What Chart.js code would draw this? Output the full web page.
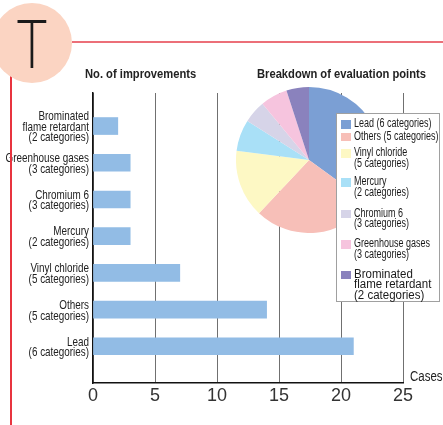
<!DOCTYPE html>
<html>
<head>
<meta charset="utf-8">
<script src="https://cdn.jsdelivr.net/npm/chart.js@4.4.1/dist/chart.umd.min.js"></script>
<style>
  html, body { margin: 0; padding: 0; background: #fff; }
  #page { position: relative; width: 443px; height: 425px; overflow: hidden; font-family: 'Liberation Sans', Arial, sans-serif; color: #222; }
  #badge { position: absolute; left: -8px; top: 3px; width: 80px; height: 80px; border-radius: 50%; background: #fbd4c2; }
  #badge span { position: absolute; left: 0; width: 100%; top: 2px; text-align: center; font: 300 67px 'Lato', 'Inter', 'Liberation Sans', sans-serif; line-height: 74px; color: #1a1a1a; transform: scaleX(0.78); }
  #hline { position: absolute; left: 72px; top: 41px; width: 371px; height: 1.5px; background: #ec6f78; }
  #vline { position: absolute; left: 10px; top: 76px; width: 1.5px; height: 349px; background: #e8343f; }
  .title { position: absolute; top: 66px; font-weight: bold; font-size: 13px; white-space: nowrap; color: #222; transform: scaleX(0.86); transform-origin: left top; }
  #barCanvas, #pieCanvas { position: absolute; }
  #barCanvas { left: 0; top: 0; }
  #pieCanvas { left: 236px; top: 87px; }
  #cases { position: absolute; left: 410px; top: 368px; font-size: 14px; transform: scaleX(0.82); transform-origin: left top; }
  #legend { position: absolute; left: 336px; top: 113px; width: 102px; height: 187px; background: #fff; border: 1.5px solid #a0a0a0; box-sizing: content-box; }
  .item { position: relative; padding-left: 17px; font-size: 12.5px; line-height: 10.5px; white-space: nowrap; color: #1a1a1a; }
  .item .txt { display: inline-block; transform: scaleX(0.72); transform-origin: left top; }
  .item .sw { position: absolute; left: 4px; top: 2px; width: 10px; height: 8.5px; }
  .item.big { font-size: 12.5px; line-height: 10.6px; }
  .item.big .txt { transform: scaleX(0.92); }
</style>
</head>
<body>
<div id="page">
  <canvas id="barCanvas" width="443" height="425"></canvas>
  <canvas id="pieCanvas" width="146" height="146"></canvas>
  <div id="hline"></div>
  <div id="vline"></div>
  <div id="badge"><span>T</span></div>
  <div class="title" style="left:85px">No. of improvements</div>
  <div class="title" style="left:257px">Breakdown of evaluation points</div>
  <div id="cases">Cases</div>
  <div id="legend"></div>
</div>
<script>
// bar chart: number of improvements per substance group
const categories = [
  ['Brominated', 'flame retardant', '(2 categories)'],
  ['Greenhouse gases', '(3 categories)'],
  ['Chromium 6', '(3 categories)'],
  ['Mercury', '(2 categories)'],
  ['Vinyl chloride', '(5 categories)'],
  ['Others', '(5 categories)'],
  ['Lead', '(6 categories)']
];
const improvements = [2, 3, 3, 3, 7, 14, 21];
const caseTicks = [0, 5, 10, 15, 20, 25];

// pie chart: share of evaluation points
const pieLabels = [
  ['Lead (6 categories)'],
  ['Others (5 categories)'],
  ['Vinyl chloride', '(5 categories)'],
  ['Mercury', '(2 categories)'],
  ['Chromium 6', '(3 categories)'],
  ['Greenhouse gases', '(3 categories)'],
  ['Brominated', 'flame retardant', '(2 categories)']
];
const pieShares = [35, 27, 15, 7, 5, 6, 5];
const pieColors = ['#7b9fd4', '#f7bfb8', '#fdf8c4', '#a9e0f7', '#d6d4e8', '#f6c4de', '#8a82bd'];

// narrow category labels, squeezed horizontally
const yLabels = {
  id: 'yLabels',
  afterDraw(chart) {
    const { ctx, scales: { y } } = chart;
    const lh = 10.7;
    ctx.save();
    ctx.font = "13px 'Liberation Sans', Arial, sans-serif";
    ctx.fillStyle = '#222';
    ctx.textAlign = 'right';
    ctx.textBaseline = 'middle';
    categories.forEach((lines, i) => {
      const cy = y.getPixelForValue(i) + 1;
      lines.forEach((line, j) => {
        ctx.save();
        ctx.translate(y.right - 4, cy + (j - (lines.length - 1) / 2) * lh);
        ctx.scale(0.76, 1);
        ctx.fillText(line, 0, 0);
        ctx.restore();
      });
    });
    ctx.restore();
  }
};

new Chart(document.getElementById('barCanvas'), {
  type: 'bar',
  data: {
    datasets: [{
      data: improvements.map((v, i) => ({ x: v, y: i })),
      backgroundColor: '#92bce5',
      borderWidth: 0,
      barThickness: 17
    }]
  },
  options: {
    indexAxis: 'y',
    responsive: false,
    animation: false,
    layout: { padding: { left: 0, top: 93, right: 40, bottom: 0 } },
    plugins: { legend: { display: false }, tooltip: { enabled: false } },
    scales: {
      x: {
        type: 'linear',
        min: caseTicks[0],
        max: caseTicks[caseTicks.length - 1],
        afterBuildTicks: s => { s.ticks = caseTicks.map(v => ({ value: v })); },
        afterFit: s => { s.height = 42; },
        grid: { color: '#707070', lineWidth: 1, drawTicks: false },
        border: { color: '#111', width: 1.5 },
        ticks: { padding: 2, color: '#333', font: { family: "'Liberation Sans', Arial, sans-serif", size: 18 } }
      },
      y: {
        type: 'linear',
        offset: false,
        reverse: true,
        min: -0.9,
        max: 7,
        afterBuildTicks: s => { s.ticks = categories.map((c, i) => ({ value: i })); },
        afterFit: s => { s.width = 93; },
        grid: { display: false },
        border: { color: '#111', width: 1.5 },
        ticks: { display: false }
      }
    }
  },
  plugins: [yLabels]
});

new Chart(document.getElementById('pieCanvas'), {
  type: 'pie',
  data: {
    labels: pieLabels.map(l => l.join(' ')),
    datasets: [{ data: pieShares, backgroundColor: pieColors, borderWidth: 0 }]
  },
  options: {
    responsive: false,
    animation: false,
    layout: { padding: 0 },
    plugins: { legend: { display: false }, tooltip: { enabled: false } }
  }
});

// legend box next to the pie
const legendGaps = [4, 2, 6, 8, 10.5, 9.5, 9.5];
const legend = document.getElementById('legend');
pieLabels.forEach((lines, i) => {
  const item = document.createElement('div');
  item.className = 'item' + (i === pieLabels.length - 1 ? ' big' : '');
  item.style.marginTop = legendGaps[i] + 'px';
  item.innerHTML = '<span class="sw" style="background:' + pieColors[i] + '"></span><span class="txt">' + lines.join('<br>') + '</span>';
  legend.appendChild(item);
});
</script>
</body>
</html>
